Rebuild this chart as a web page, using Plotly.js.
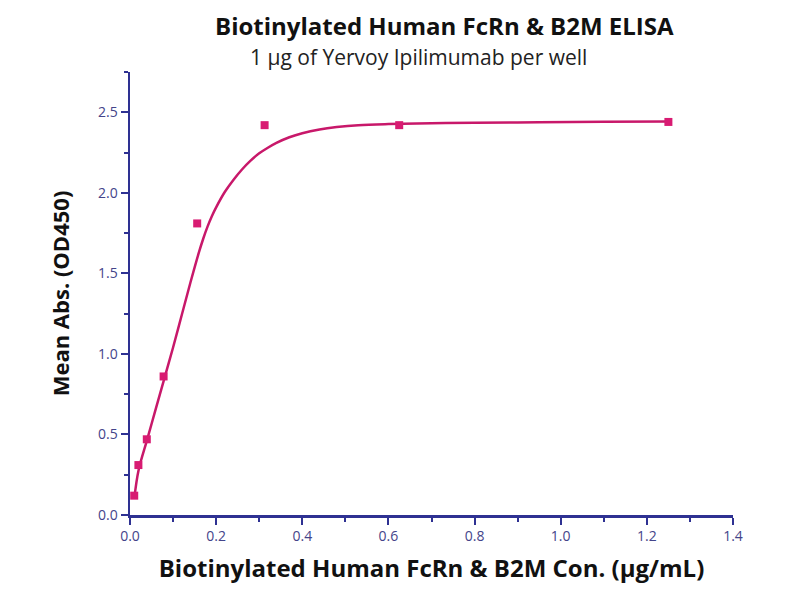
<!DOCTYPE html>
<html>
<head>
<meta charset="utf-8">
<script src="https://cdn.plot.ly/plotly-3.0.1.min.js"></script>
<style>
  html, body { margin: 0; padding: 0; background: #fff; }
  #plot { width: 800px; height: 600px; }
</style>
</head>
<body>
<div id="plot"></div>
<script>
// measured points (ug/mL vs OD450)
const concentration = [0.0098, 0.0195, 0.039, 0.078, 0.156, 0.3125, 0.625, 1.25];
const meanAbs = [0.12, 0.31, 0.47, 0.86, 1.81, 2.42, 2.42, 2.44];

// fitted curve
const fitX = [0.0098, 0.02, 0.04, 0.06, 0.08, 0.10, 0.12, 0.14, 0.16, 0.17, 0.18, 0.19, 0.20, 0.22, 0.24, 0.26, 0.28, 0.30, 0.32, 0.34, 0.37, 0.40, 0.44, 0.48, 0.53, 0.60, 0.70, 0.80, 0.95, 1.10, 1.25];
const fitY = [0.10, 0.28, 0.47, 0.66, 0.85, 1.04, 1.24, 1.44, 1.63, 1.715, 1.79, 1.855, 1.91, 2.005, 2.08, 2.145, 2.20, 2.245, 2.28, 2.31, 2.345, 2.37, 2.393, 2.408, 2.42, 2.427, 2.432, 2.435, 2.438, 2.441, 2.443];

const xTicks = [0, 0.2, 0.4, 0.6, 0.8, 1.0, 1.2, 1.4];
const yTicks = [0, 0.5, 1.0, 1.5, 2.0, 2.5];

const navy = "#2e3192";
const pink = "#d81b72";
const font = "'Open Sans', sans-serif";

const fit = {
    x: fitX,
    y: fitY,
    mode: "lines",
    type: "scatter",
    line: { color: "#c8186a", width: 2.5, shape: "spline" },
    hoverinfo: "skip"
};

const points = {
    x: concentration,
    y: meanAbs,
    mode: "markers",
    type: "scatter",
    marker: { color: pink, size: 8, symbol: "square" }
};

const layout = {
    width: 800,
    height: 600,
    margin: { l: 130, r: 67, t: 72, b: 85 },
    paper_bgcolor: "#fff",
    plot_bgcolor: "#fff",
    showlegend: false,
    font: { family: font },
    xaxis: {
        range: [0, 1.4],
        tickvals: xTicks,
        ticktext: xTicks.map(v => v.toFixed(1)),
        showgrid: false,
        zeroline: false,
        showline: true,
        linecolor: navy,
        linewidth: 2.5,
        ticks: "outside",
        ticklen: 7,
        tickwidth: 2,
        tickcolor: navy,
        minor: { dtick: 0.1, ticks: "outside", ticklen: 4, tickwidth: 2, tickcolor: navy },
        tickfont: { family: font, size: 14, color: "#44448a" },
        title: {
            text: "<b>Biotinylated Human FcRn & B2M Con. (µg/mL)</b>",
            font: { family: font, size: 24, color: "#111" },
            standoff: 16
        }
    },
    yaxis: {
        range: [0, 2.75],
        tickvals: yTicks,
        ticktext: yTicks.map(v => v.toFixed(1)),
        showgrid: false,
        zeroline: false,
        showline: true,
        linecolor: navy,
        linewidth: 2.5,
        ticks: "outside",
        ticklen: 7,
        tickwidth: 2,
        tickcolor: navy,
        minor: { dtick: 0.25, ticks: "outside", ticklen: 4, tickwidth: 2, tickcolor: navy },
        tickfont: { family: font, size: 14, color: "#44448a" },
        title: {
            text: "<b>Mean Abs. (OD450)</b>",
            font: { family: font, size: 22, color: "#111" },
            standoff: 23
        }
    },
    annotations: [
        {
            text: "<b>Biotinylated Human FcRn & B2M ELISA</b>",
            xref: "paper", yref: "paper", x: 0.521, y: 1.106,
            xanchor: "center", yanchor: "middle", showarrow: false,
            font: { family: font, size: 24, color: "#111" }
        },
        {
            text: "1 µg of Yervoy Ipilimumab per well",
            xref: "paper", yref: "paper", x: 0.478, y: 1.034,
            xanchor: "center", yanchor: "middle", showarrow: false,
            font: { family: font, size: 21, color: "#222" }
        }
    ]
};

Plotly.newPlot("plot", [fit, points], layout, { displayModeBar: false, staticPlot: true });
</script>
</body>
</html>
